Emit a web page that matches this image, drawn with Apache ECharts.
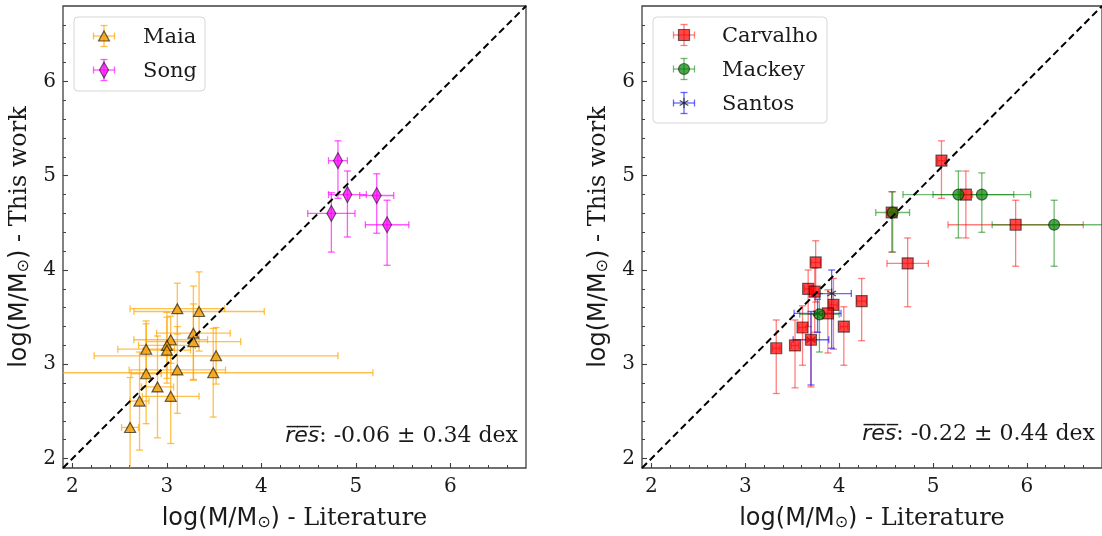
<!DOCTYPE html>
<html>
<head>
<meta charset="utf-8">
<script src="https://cdn.jsdelivr.net/npm/echarts@6/dist/echarts.min.js"></script>
<style>
  html, body { margin: 0; padding: 0; background: #ffffff; }
  #chart { width: 1102px; height: 536px; }
</style>
</head>
<body>
<div id="chart"></div>
<script>
// ---- axis ranges and ticks (same for both panels, both axes) ----
const axisMin = 1.9;
const axisMax = 6.8;
const majorTicks = [2, 3, 4, 5, 6];
const minorTicks = [2.2, 2.4, 2.6, 2.8, 3.2, 3.4, 3.6, 3.8, 4.2, 4.4, 4.6, 4.8,
                    5.2, 5.4, 5.6, 5.8, 6.2, 6.4, 6.6];
const oneToOne = [1.9, 6.8];

// ---- left panel: Maia ----
const maiaX    = [3.11, 3.34, 3.28, 3.04, 3.28, 3.00, 2.78, 3.00, 3.52, 2.78, 3.11, 3.49, 2.90, 2.71, 3.04, 2.61];
const maiaY    = [3.59, 3.56, 3.33, 3.26, 3.24, 3.20, 3.16, 3.15, 3.09, 2.90, 2.94, 2.91, 2.76, 2.61, 2.66, 2.33];
const maiaXErr = [0.50, 0.69, 0.39, 0.39, 0.50, 0.30, 0.30, 0.25, 1.29, 0.16, 0.51, 1.69, 0.17, 0.10, 0.30, 0.09];
const maiaYErr = [0.27, 0.42, 0.50, 0.25, 0.40, 0.35, 0.30, 0.35, 0.30, 0.53, 0.46, 0.47, 0.54, 0.52, 0.50, 0.53];

// ---- left panel: Song ----
const songX      = [4.81, 4.91, 5.22, 4.74, 5.33];
const songY      = [5.16, 4.80, 4.79, 4.60, 4.48];
const songXErr   = [0.10, 0.20, 0.18, 0.25, 0.23];
const songYErrLo = [0.40, 0.45, 0.40, 0.41, 0.43];
const songYErrHi = [0.21, 0.25, 0.23, 0.22, 0.26];

// ---- right panel: Carvalho ----
const carvX      = [3.75, 3.67, 3.74, 3.94, 4.24, 3.88, 4.05, 3.61, 3.70, 3.53, 3.33, 5.09, 5.35, 4.56, 5.88, 4.73];
const carvY      = [4.08, 3.80, 3.77, 3.63, 3.67, 3.54, 3.40, 3.39, 3.26, 3.20, 3.17, 5.16, 4.80, 4.61, 4.48, 4.07];
const carvXErr   = [0.05, 0.04, 0.04, 0.04, 0.05, 0.04, 0.04, 0.04, 0.04, 0.04, 0.04, 0.04, 0.07, 0.04, 0.72, 0.22];
const carvYErrLo = [0.42, 0.40, 0.43, 0.47, 0.42, 0.42, 0.41, 0.40, 0.50, 0.45, 0.48, 0.40, 0.46, 0.42, 0.44, 0.46];
const carvYErrHi = [0.23, 0.20, 0.25, 0.28, 0.24, 0.25, 0.21, 0.23, 0.27, 0.27, 0.30, 0.21, 0.25, 0.22, 0.26, 0.27];

// ---- right panel: Mackey ----
const mackX      = [4.57, 5.27, 5.52, 6.29, 3.79];
const mackY      = [4.61, 4.80, 4.80, 4.48, 3.53];
const mackXErr   = [0.18, 0.59, 0.52, 0.66, 0.21];
const mackYErrLo = [0.42, 0.46, 0.40, 0.44, 0.40];
const mackYErrHi = [0.22, 0.25, 0.23, 0.26, 0.22];

// ---- right panel: Santos ----
const santX      = [3.92, 3.70, 3.77];
const santY      = [3.75, 3.26, 3.54];
const santXErr   = [0.21, 0.19, 0.25];
const santYErrLo = [0.58, 0.48, 0.20];
const santYErrHi = [0.25, 0.30, 0.15];

// ---- annotation texts ----
const resLeft  = ': -0.06 ± 0.34 dex';
const resRight = ': -0.22 ± 0.44 dex';

// ---- styles ----
const serif = 'DejaVu Serif';
const sans = 'DejaVu Sans';
const frameColor = '#404040';
const textColor = '#1a1a1a';

const palette = {
  maia: { bar: 'rgba(255,165,0,0.7)', fill: 'rgba(245,160,10,0.85)', edge: 'rgba(0,0,0,0.6)' },
  song: { bar: 'rgba(255,0,255,0.65)', fill: 'rgba(255,0,255,0.75)', edge: 'rgba(0,0,0,0.55)' },
  carv: { bar: 'rgba(255,0,0,0.5)', fill: 'rgba(255,0,0,0.72)', edge: 'rgba(0,0,0,0.55)' },
  mack: { bar: 'rgba(0,128,0,0.55)', fill: 'rgba(0,128,0,0.7)', edge: 'rgba(0,0,0,0.5)' },
  sant: { bar: 'rgba(0,0,255,0.6)', mark: 'rgba(40,40,40,0.85)' }
};

function errRows(xs, ys, xe, ylo, yhi) {
  return xs.map((x, i) => [x, ys[i], xe[i], ylo[i], yhi[i]]);
}
function pointRows(xs, ys) {
  return xs.map((x, i) => [x, ys[i]]);
}

const CAP = 3.5;
function seg(a, b, style) {
  return { type: 'line', shape: { x1: a[0], y1: a[1], x2: b[0], y2: b[1] }, style: style };
}

// error bars with caps, drawn through the grid's coordinate system
function errorBarRenderer(color) {
  return function (params, api) {
    const x = api.value(0), y = api.value(1);
    const xe = api.value(2), ylo = api.value(3), yhi = api.value(4);
    const l = api.coord([x - xe, y]);
    const r = api.coord([x + xe, y]);
    const b = api.coord([x, y - ylo]);
    const t = api.coord([x, y + yhi]);
    const st = { stroke: color, lineWidth: 1.3 };
    return {
      type: 'group',
      children: [
        seg(l, r, st),
        seg(b, t, st),
        seg([l[0], l[1] - CAP], [l[0], l[1] + CAP], st),
        seg([r[0], r[1] - CAP], [r[0], r[1] + CAP], st),
        seg([b[0] - CAP, b[1]], [b[0] + CAP, b[1]], st),
        seg([t[0] - CAP, t[1]], [t[0] + CAP, t[1]], st)
      ]
    };
  };
}

// asterisk markers
function asteriskRenderer(color) {
  return function (params, api) {
    const c = api.coord([api.value(0), api.value(1)]);
    const rr = 5;
    const st = { stroke: color, lineWidth: 1.2 };
    const children = [];
    for (let k = 0; k < 3; k++) {
      const a = Math.PI / 2 + k * Math.PI / 3;
      children.push(seg([c[0] - rr * Math.cos(a), c[1] - rr * Math.sin(a)],
                        [c[0] + rr * Math.cos(a), c[1] + rr * Math.sin(a)], st));
    }
    return { type: 'group', children: children };
  };
}

function errorSeries(name, gi, rows, color) {
  return {
    name: name, type: 'custom', xAxisIndex: gi * 2, yAxisIndex: gi * 2,
    data: rows, encode: { x: 0, y: 1 }, clip: true, silent: true,
    renderItem: errorBarRenderer(color)
  };
}
function markerSeries(name, gi, rows, symbol, size, pal) {
  return {
    name: name, type: 'scatter', xAxisIndex: gi * 2, yAxisIndex: gi * 2,
    data: rows, symbol: symbol, symbolSize: size, silent: true,
    itemStyle: { color: pal.fill, borderColor: pal.edge, borderWidth: 1.2, opacity: 1 }
  };
}

// axis title: "log(M/M⊙) - ..."
function axisTitle(tail) {
  return '{m|log(M/M}{s|⊙}{m|)}{t| - ' + tail + '}';
}
const titleRich = {
  m: { fontFamily: sans, fontSize: 24, color: textColor },
  s: { fontFamily: sans, fontSize: 16, color: textColor, verticalAlign: 'bottom' },
  t: { fontFamily: serif, fontSize: 24, color: textColor }
};

function makeAxes(dim, gi, title) {
  const isX = dim === 'x';
  const main = {
    type: 'value', gridIndex: gi, min: axisMin, max: axisMax,
    position: isX ? 'bottom' : 'left',
    axisLine: { show: false },
    splitLine: { show: false },
    axisTick: { show: true, inside: true, length: 5, customValues: majorTicks,
                lineStyle: { color: frameColor, width: 1.1 } },
    axisLabel: { show: true, customValues: majorTicks, margin: isX ? 9 : 7,
                 fontFamily: serif, fontSize: 20, color: textColor },
    name: title, nameLocation: 'middle', nameGap: isX ? 39 : 31,
    nameTextStyle: { rich: titleRich }
  };
  const minor = {
    type: 'value', gridIndex: gi, min: axisMin, max: axisMax,
    position: isX ? 'bottom' : 'left',
    axisLine: { show: false },
    splitLine: { show: false },
    axisTick: { show: true, inside: true, length: 3, customValues: minorTicks,
                lineStyle: { color: frameColor, width: 1 } },
    axisLabel: { show: false }
  };
  return [main, minor];
}

// ---- legend drawing ----
function legendIcon(cx, cy, kind, pal) {
  const h = 10.5;
  const st = { stroke: pal.bar, lineWidth: 1.3 };
  const ch = [
    { type: 'line', shape: { x1: cx - h, y1: cy, x2: cx + h, y2: cy }, style: st },
    { type: 'line', shape: { x1: cx, y1: cy - h, x2: cx, y2: cy + h }, style: st },
    { type: 'line', shape: { x1: cx - h, y1: cy - CAP, x2: cx - h, y2: cy + CAP }, style: st },
    { type: 'line', shape: { x1: cx + h, y1: cy - CAP, x2: cx + h, y2: cy + CAP }, style: st },
    { type: 'line', shape: { x1: cx - CAP, y1: cy - h, x2: cx + CAP, y2: cy - h }, style: st },
    { type: 'line', shape: { x1: cx - CAP, y1: cy + h, x2: cx + CAP, y2: cy + h }, style: st }
  ];
  const ms = { fill: pal.fill, stroke: pal.edge, lineWidth: 1.2 };
  if (kind === 'triangle') {
    ch.push({ type: 'polygon', shape: { points: [[cx, cy - 5], [cx + 5.5, cy + 5], [cx - 5.5, cy + 5]] }, style: ms });
  } else if (kind === 'diamond') {
    ch.push({ type: 'polygon', shape: { points: [[cx, cy - 8], [cx + 4.5, cy], [cx, cy + 8], [cx - 4.5, cy]] }, style: ms });
  } else if (kind === 'rect') {
    ch.push({ type: 'rect', shape: { x: cx - 5.5, y: cy - 5.5, width: 11, height: 11 }, style: ms });
  } else if (kind === 'circle') {
    ch.push({ type: 'circle', shape: { cx: cx, cy: cy, r: 5.5 }, style: ms });
  } else {
    for (let k = 0; k < 3; k++) {
      const a = Math.PI / 2 + k * Math.PI / 3;
      ch.push({ type: 'line', shape: { x1: cx - 5 * Math.cos(a), y1: cy - 5 * Math.sin(a),
        x2: cx + 5 * Math.cos(a), y2: cy + 5 * Math.sin(a) }, style: { stroke: pal.mark, lineWidth: 1.2 } });
    }
  }
  return ch;
}

function legendBox(x, y, w, h, entries, iconX, textX, rowY) {
  const children = [{
    type: 'rect', shape: { x: x, y: y, width: w, height: h, r: 4 },
    style: { fill: 'rgba(255,255,255,0.85)', stroke: '#d6d6d6', lineWidth: 1 }
  }];
  entries.forEach((e, i) => {
    legendIcon(iconX, rowY[i], e.kind, e.pal).forEach(c => children.push(c));
    children.push({
      type: 'text',
      style: { text: e.label, x: textX, y: rowY[i] + 2, verticalAlign: 'middle', align: 'left',
               font: '21px "' + serif + '"', fill: textColor }
    });
  });
  return { type: 'group', z: 100, children: children };
}

function resText(xRight, yMid, tail) {
  return {
    type: 'text', z: 100,
    style: {
      text: '{r|r\u0305e\u0305s\u0305}{t|' + tail + '}',
      x: xRight, y: yMid, align: 'right', verticalAlign: 'middle',
      rich: {
        r: { fontFamily: sans, fontStyle: 'italic', fontSize: 22, fill: textColor },
        t: { fontFamily: serif, fontSize: 22, fill: textColor }
      }
    }
  };
}

const xAxes = [].concat(makeAxes('x', 0, axisTitle('Literature')), makeAxes('x', 1, axisTitle('Literature')));
const yAxes = [].concat(makeAxes('y', 0, axisTitle('This work')), makeAxes('y', 1, axisTitle('This work')));

function diagonal(gi) {
  return {
    type: 'line', xAxisIndex: gi * 2, yAxisIndex: gi * 2, silent: true,
    data: [[oneToOne[0], oneToOne[0]], [oneToOne[1], oneToOne[1]]],
    symbol: 'none', z: 5,
    lineStyle: { color: '#000000', width: 2, type: [7, 4] }
  };
}

const option = {
  animation: false,
  backgroundColor: '#ffffff',
  grid: [
    { left: 63, top: 6, width: 463, height: 464, show: true, borderColor: frameColor, borderWidth: 1.3, backgroundColor: 'transparent' },
    { left: 642, top: 6, width: 463, height: 464, show: true, borderColor: frameColor, borderWidth: 1.3, backgroundColor: 'transparent' }
  ],
  xAxis: xAxes,
  yAxis: yAxes,
  series: [
    errorSeries('Maia', 0, errRows(maiaX, maiaY, maiaXErr, maiaYErr, maiaYErr), palette.maia.bar),
    markerSeries('Maia', 0, pointRows(maiaX, maiaY), 'triangle', [11, 10], palette.maia),
    errorSeries('Song', 0, errRows(songX, songY, songXErr, songYErrLo, songYErrHi), palette.song.bar),
    markerSeries('Song', 0, pointRows(songX, songY), 'diamond', [9, 16], palette.song),
    diagonal(0),

    errorSeries('Carvalho', 1, errRows(carvX, carvY, carvXErr, carvYErrLo, carvYErrHi), palette.carv.bar),
    markerSeries('Carvalho', 1, pointRows(carvX, carvY), 'rect', 11, palette.carv),
    errorSeries('Mackey', 1, errRows(mackX, mackY, mackXErr, mackYErrLo, mackYErrHi), palette.mack.bar),
    markerSeries('Mackey', 1, pointRows(mackX, mackY), 'circle', 11, palette.mack),
    errorSeries('Santos', 1, errRows(santX, santY, santXErr, santYErrLo, santYErrHi), palette.sant.bar),
    {
      name: 'Santos', type: 'custom', xAxisIndex: 2, yAxisIndex: 2, silent: true,
      data: pointRows(santX, santY), encode: { x: 0, y: 1 }, clip: true,
      renderItem: asteriskRenderer(palette.sant.mark)
    },
    diagonal(1)
  ],
  graphic: [
    legendBox(74, 17, 131, 74, [
      { label: 'Maia', kind: 'triangle', pal: palette.maia },
      { label: 'Song', kind: 'diamond', pal: palette.song }
    ], 104, 143, [36, 70]),
    legendBox(653, 17, 174, 106, [
      { label: 'Carvalho', kind: 'rect', pal: palette.carv },
      { label: 'Mackey', kind: 'circle', pal: palette.mack },
      { label: 'Santos', kind: 'asterisk', pal: palette.sant }
    ], 684, 722, [35, 69, 103]),
    resText(518, 436, resLeft),
    resText(1095, 434, resRight)
  ]
};

const chart = echarts.init(document.getElementById('chart'), null, { renderer: 'canvas' });
chart.setOption(option);
</script>
</body>
</html>
